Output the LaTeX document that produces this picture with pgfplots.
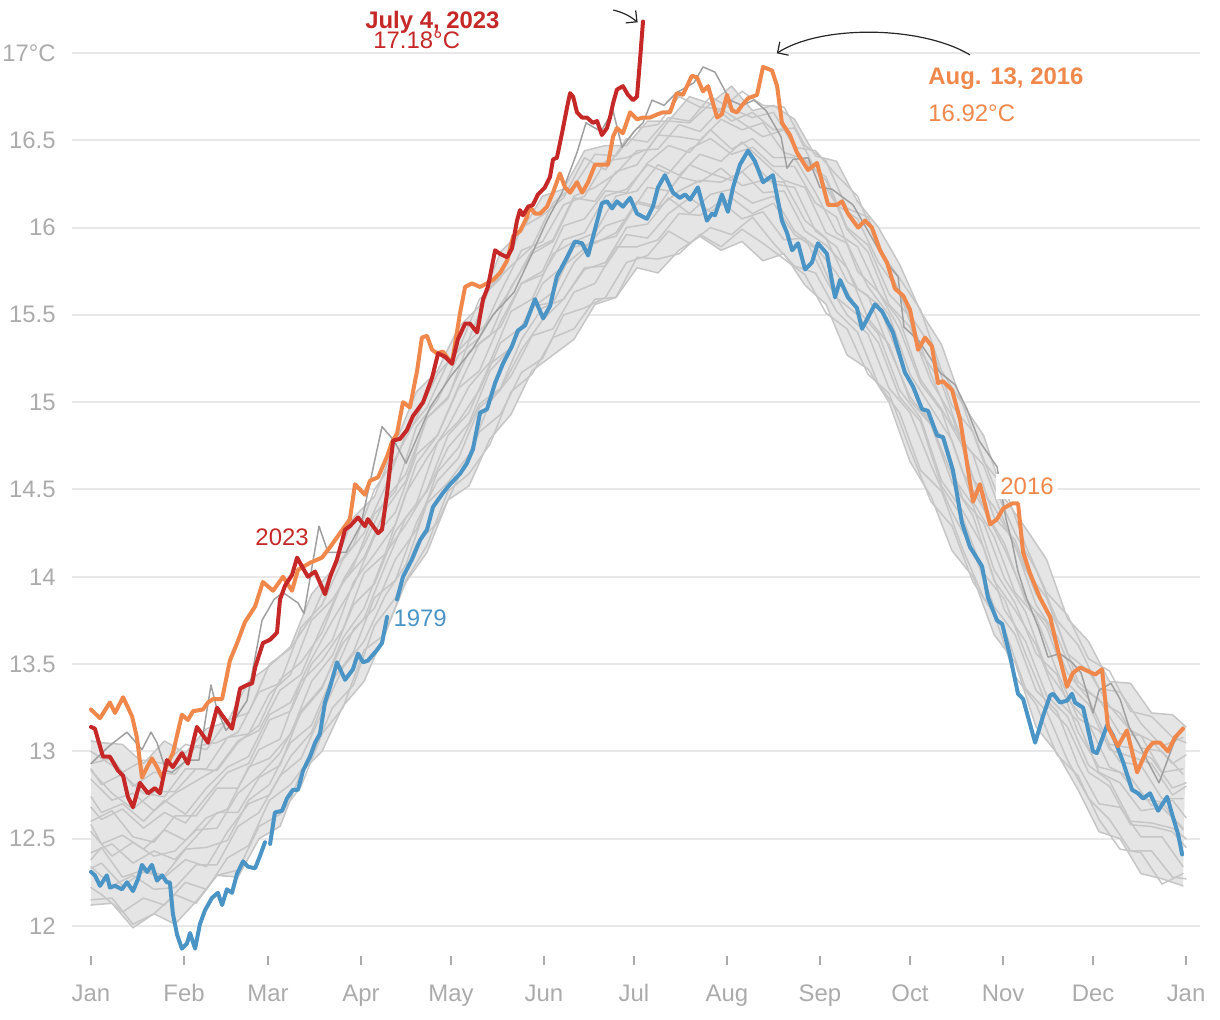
\documentclass[border=0pt]{standalone}
\usepackage{fontspec}
\setmainfont{Liberation Sans}
\usepackage{pgfplots}
\pgfplotsset{compat=1.18}
\usepgfplotslibrary{fillbetween}
\usetikzlibrary{arrows.meta}
\definecolor{gridc}{HTML}{E8E8E8}
\definecolor{tickc}{HTML}{ABABAB}
\definecolor{band}{HTML}{C6C6C6}
\definecolor{bandfill}{HTML}{E5E5E5}
\definecolor{darkg}{HTML}{A0A0A0}
\definecolor{c23}{HTML}{C62828}
\definecolor{c16}{HTML}{F0874B}
\definecolor{c79}{HTML}{4A94C6}
\begin{document}
\begin{tikzpicture}[font=\fontsize{12}{14}\selectfont]
\begin{axis}[
  set layers,
  scale only axis, width=564bp, height=468.8bp,
  xmin=-6.3, xmax=369.7, ymin=11.83, ymax=17.2,
  clip=false,
  axis line style={draw=none},
  tick pos=left,
  xtick={0,31,59,90,120,151,181,212,243,273,304,334,365},
  xticklabels={Jan,Feb,Mar,Apr,May,Jun,Jul,Aug,Sep,Oct,Nov,Dec,Jan},
  ytick={12,12.5,13,13.5,14,14.5,15,15.5,16,16.5,17},
  yticklabels={12,12.5,13,13.5,14,14.5,15,15.5,16,16.5,17°C},
  ymajorgrids=true,
  grid style={draw=gridc, line width=1bp},
  tick align=outside,
  major tick length=4.5bp,
  xtick style={draw=tickc, line width=0.8bp},
  ytick style={draw=none},
  tick label style={text=tickc, font=\fontsize{12}{14}\selectfont, inner sep=0pt},
  xticklabel style={anchor=north, yshift=-9.8bp},
  yticklabel style={anchor=east, xshift=-3.5bp},
  every axis plot/.append style={mark=none, line join=round, line cap=round},
  gl/.style={band, line width=0.75bp},
]
\path (axis cs:-30.33,11.4616) rectangle (axis cs:376.33,17.3035);
% grey band: individual years
\addplot[gl, name path=lo] coordinates {(0,12.12)(7,12.13)(14,11.99)(21,12.07)(28,12.01)(35,12.14)(42,12.29)(49,12.28)(56,12.50)(63,12.57)(70,12.88)(77,13.00)(84,13.26)(91,13.40)(98,13.68)(105,13.97)(112,14.14)(119,14.44)(126,14.52)(133,14.79)(140,14.93)(147,15.18)(154,15.27)(161,15.36)(168,15.56)(175,15.60)(182,15.77)(189,15.74)(196,15.87)(203,15.95)(210,15.87)(217,15.92)(224,15.81)(231,15.85)(238,15.67)(245,15.56)(252,15.27)(259,15.19)(266,15.00)(273,14.66)(280,14.46)(287,14.15)(294,14.00)(301,13.67)(308,13.51)(315,13.14)(322,12.99)(329,12.78)(336,12.54)(343,12.50)(350,12.30)(357,12.27)(364,12.23)};
\addplot[gl, name path=hi] coordinates {(0,13.06)(3.5,13.05)(10.5,13.04)(17.5,12.93)(24.5,13.06)(31.5,12.99)(38.5,13.13)(45.5,13.17)(52.5,13.40)(59.5,13.49)(66.5,13.60)(73.5,13.90)(80.5,14.04)(87.5,14.34)(94.5,14.46)(101.5,14.77)(108.5,15.06)(115.5,15.18)(122.5,15.43)(129.5,15.55)(136.5,15.86)(143.5,15.98)(150.5,16.18)(157.5,16.22)(164.5,16.44)(171.5,16.47)(178.5,16.47)(185.5,16.61)(192.5,16.61)(199.5,16.75)(206.5,16.71)(213.5,16.81)(220.5,16.67)(227.5,16.70)(234.5,16.62)(241.5,16.41)(248.5,16.38)(255.5,16.15)(262.5,16.00)(269.5,15.79)(276.5,15.52)(283.5,15.33)(290.5,14.99)(297.5,14.81)(304.5,14.45)(311.5,14.28)(318.5,14.10)(325.5,13.76)(332.5,13.63)(339.5,13.40)(346.5,13.39)(353.5,13.22)(360.5,13.21)(365,13.14)};
\addplot[bandfill, draw=none] fill between[of=lo and hi];
\addplot[gl] coordinates {(0,12.15)(7,12.16)(14,12.01)(21,12.07)(28,12.18)(35,12.13)(42,12.29)(49,12.32)(56,12.57)(63,12.64)(70,12.80)(77,13.10)(84,13.25)(91,13.58)(98,13.67)(105,13.98)(112,14.18)(119,14.49)(126,14.59)(133,14.76)(140,15.06)(147,15.16)(154,15.37)(161,15.42)(168,15.59)(175,15.60)(182,15.83)(189,15.82)(196,15.85)(203,15.96)(210,15.89)(217,15.99)(224,15.91)(231,15.82)(238,15.73)(245,15.51)(252,15.42)(259,15.16)(266,15.05)(273,14.73)(280,14.43)(287,14.29)(294,13.97)(301,13.79)(308,13.43)(315,13.27)(322,12.98)(329,12.86)(336,12.61)(343,12.44)(350,12.42)(357,12.24)(364,12.30)};
\addplot[gl] coordinates {(0,12.22)(3.5,12.18)(10.5,12.08)(17.5,12.16)(24.5,12.12)(31.5,12.25)(38.5,12.21)(45.5,12.39)(52.5,12.46)(59.5,12.72)(66.5,12.81)(73.5,12.97)(80.5,13.25)(87.5,13.38)(94.5,13.72)(101.5,13.88)(108.5,14.19)(115.5,14.31)(122.5,14.57)(129.5,14.83)(136.5,14.93)(143.5,15.17)(150.5,15.25)(157.5,15.50)(164.5,15.54)(171.5,15.60)(178.5,15.80)(185.5,15.84)(192.5,15.98)(199.5,15.91)(206.5,16.00)(213.5,15.96)(220.5,16.06)(227.5,15.91)(234.5,15.78)(241.5,15.74)(248.5,15.52)(255.5,15.40)(262.5,15.10)(269.5,14.94)(276.5,14.61)(283.5,14.49)(290.5,14.16)(297.5,13.88)(304.5,13.70)(311.5,13.36)(318.5,13.23)(325.5,12.95)(332.5,12.73)(339.5,12.61)(346.5,12.43)(353.5,12.43)(360.5,12.28)(365,12.27)};
\addplot[gl] coordinates {(0,12.34)(7,12.23)(14,12.29)(21,12.21)(28,12.22)(35,12.35)(42,12.35)(49,12.57)(56,12.65)(63,12.86)(70,12.96)(77,13.22)(84,13.48)(91,13.63)(98,13.89)(105,14.07)(112,14.42)(119,14.54)(126,14.70)(133,15.00)(140,15.15)(147,15.38)(154,15.42)(161,15.63)(168,15.68)(175,15.89)(182,15.89)(189,15.93)(196,16.08)(203,16.07)(210,16.15)(217,16.05)(224,16.09)(231,15.93)(238,15.94)(245,15.70)(252,15.50)(259,15.39)(266,15.08)(273,14.94)(280,14.64)(287,14.37)(294,14.15)(301,13.83)(308,13.67)(315,13.35)(322,13.23)(329,12.92)(336,12.70)(343,12.68)(350,12.51)(357,12.51)(364,12.34)};
\addplot[gl] coordinates {(0,12.33)(3.5,12.36)(10.5,12.23)(17.5,12.31)(24.5,12.28)(31.5,12.38)(38.5,12.34)(45.5,12.54)(52.5,12.70)(59.5,12.75)(66.5,12.97)(73.5,13.11)(80.5,13.41)(87.5,13.57)(94.5,13.88)(101.5,13.98)(108.5,14.31)(115.5,14.55)(122.5,14.68)(129.5,14.97)(136.5,15.07)(143.5,15.30)(150.5,15.47)(157.5,15.59)(164.5,15.77)(171.5,15.78)(178.5,15.96)(185.5,15.94)(192.5,16.08)(199.5,16.17)(206.5,16.09)(213.5,16.17)(220.5,16.08)(227.5,16.14)(234.5,15.96)(241.5,15.88)(248.5,15.60)(255.5,15.50)(262.5,15.34)(269.5,15.03)(276.5,14.89)(283.5,14.52)(290.5,14.34)(297.5,14.02)(304.5,13.87)(311.5,13.56)(318.5,13.27)(325.5,13.14)(332.5,12.88)(339.5,12.80)(346.5,12.58)(353.5,12.57)(360.5,12.54)(365,12.45)};
\addplot[gl] coordinates {(0,12.38)(3.5,12.45)(10.5,12.28)(17.5,12.32)(24.5,12.29)(31.5,12.44)(38.5,12.45)(45.5,12.49)(52.5,12.72)(59.5,12.81)(66.5,13.05)(73.5,13.15)(80.5,13.43)(87.5,13.70)(94.5,13.82)(101.5,14.10)(108.5,14.27)(115.5,14.60)(122.5,14.74)(129.5,14.99)(136.5,15.08)(143.5,15.36)(150.5,15.54)(157.5,15.59)(164.5,15.76)(171.5,15.80)(178.5,16.00)(185.5,16.02)(192.5,16.17)(199.5,16.08)(206.5,16.19)(213.5,16.22)(220.5,16.14)(227.5,16.18)(234.5,15.98)(241.5,15.89)(248.5,15.74)(255.5,15.53)(262.5,15.39)(269.5,15.07)(276.5,14.91)(283.5,14.55)(290.5,14.38)(297.5,14.17)(304.5,13.81)(311.5,13.63)(318.5,13.32)(325.5,13.20)(332.5,12.92)(339.5,12.83)(346.5,12.60)(353.5,12.59)(360.5,12.56)(365,12.50)};
\addplot[gl] coordinates {(0,12.42)(7,12.47)(14,12.36)(21,12.43)(28,12.38)(35,12.51)(42,12.65)(49,12.65)(56,12.85)(63,12.92)(70,13.23)(77,13.37)(84,13.62)(91,13.76)(98,14.06)(105,14.34)(112,14.49)(119,14.74)(126,14.88)(133,15.18)(140,15.31)(147,15.55)(154,15.57)(161,15.80)(168,15.92)(175,15.95)(182,16.14)(189,16.11)(196,16.21)(203,16.27)(210,16.26)(217,16.32)(224,16.20)(231,16.21)(238,15.98)(245,15.90)(252,15.77)(259,15.48)(266,15.33)(273,15.01)(280,14.87)(287,14.54)(294,14.35)(301,13.98)(308,13.81)(315,13.61)(322,13.30)(329,13.17)(336,12.88)(343,12.82)(350,12.66)(357,12.68)(364,12.56)};
\addplot[gl] coordinates {(0,12.54)(7,12.40)(14,12.48)(21,12.40)(28,12.43)(35,12.55)(42,12.56)(49,12.76)(56,12.86)(63,12.99)(70,13.22)(77,13.36)(84,13.65)(91,13.82)(98,14.13)(105,14.30)(112,14.50)(119,14.81)(126,14.94)(133,15.22)(140,15.31)(147,15.54)(154,15.63)(161,15.89)(168,15.91)(175,15.97)(182,16.15)(189,16.12)(196,16.29)(203,16.26)(210,16.34)(217,16.24)(224,16.27)(231,16.26)(238,16.04)(245,15.94)(252,15.69)(259,15.61)(266,15.31)(273,15.03)(280,14.88)(287,14.58)(294,14.41)(301,14.04)(308,13.85)(315,13.56)(322,13.44)(329,13.11)(336,12.91)(343,12.88)(350,12.73)(357,12.71)(364,12.55)};
\addplot[gl] coordinates {(0,12.58)(3.5,12.47)(10.5,12.52)(17.5,12.44)(24.5,12.55)(31.5,12.49)(38.5,12.62)(45.5,12.67)(52.5,12.91)(59.5,12.96)(66.5,13.10)(73.5,13.40)(80.5,13.55)(87.5,13.84)(94.5,13.96)(101.5,14.26)(108.5,14.42)(115.5,14.77)(122.5,14.89)(129.5,15.07)(136.5,15.34)(143.5,15.43)(150.5,15.68)(157.5,15.78)(164.5,15.88)(171.5,16.01)(178.5,16.05)(185.5,16.23)(192.5,16.21)(199.5,16.36)(206.5,16.31)(213.5,16.27)(220.5,16.37)(227.5,16.25)(234.5,16.23)(241.5,15.98)(248.5,15.89)(255.5,15.65)(262.5,15.56)(269.5,15.25)(276.5,14.97)(283.5,14.80)(290.5,14.45)(297.5,14.31)(304.5,13.99)(311.5,13.80)(318.5,13.47)(325.5,13.30)(332.5,13.16)(339.5,12.91)(346.5,12.85)(353.5,12.69)(360.5,12.72)(365,12.62)};
\addplot[gl] coordinates {(0,12.60)(7,12.66)(14,12.51)(21,12.48)(28,12.63)(35,12.63)(42,12.79)(49,12.79)(56,13.01)(63,13.07)(70,13.40)(77,13.52)(84,13.70)(91,14.02)(98,14.13)(105,14.48)(112,14.68)(119,14.86)(126,15.09)(133,15.23)(140,15.52)(147,15.59)(154,15.85)(161,15.92)(168,15.97)(175,16.18)(182,16.21)(189,16.36)(196,16.30)(203,16.42)(210,16.38)(217,16.49)(224,16.38)(231,16.27)(238,16.23)(245,15.97)(252,15.91)(259,15.66)(266,15.50)(273,15.16)(280,14.97)(287,14.78)(294,14.43)(301,14.23)(308,13.91)(315,13.77)(322,13.46)(329,13.19)(336,13.12)(343,12.94)(350,12.92)(357,12.73)(364,12.73)};
\addplot[gl] coordinates {(0,12.68)(3.5,12.61)(10.5,12.67)(17.5,12.56)(24.5,12.65)(31.5,12.59)(38.5,12.74)(45.5,12.88)(52.5,12.93)(59.5,13.18)(66.5,13.23)(73.5,13.50)(80.5,13.64)(87.5,13.97)(94.5,14.13)(101.5,14.30)(108.5,14.65)(115.5,14.81)(122.5,15.08)(129.5,15.18)(136.5,15.46)(143.5,15.68)(150.5,15.73)(157.5,15.93)(164.5,15.97)(171.5,16.18)(178.5,16.22)(185.5,16.36)(192.5,16.31)(199.5,16.45)(206.5,16.51)(213.5,16.42)(220.5,16.46)(227.5,16.35)(234.5,16.35)(241.5,16.14)(248.5,16.06)(255.5,15.75)(262.5,15.63)(269.5,15.42)(276.5,15.11)(283.5,14.95)(290.5,14.60)(297.5,14.39)(304.5,14.16)(311.5,13.88)(318.5,13.71)(325.5,13.39)(332.5,13.27)(339.5,13.01)(346.5,12.97)(353.5,12.93)(360.5,12.75)(365,12.80)};
\addplot[gl] coordinates {(0,12.74)(3.5,12.65)(10.5,12.70)(17.5,12.60)(24.5,12.72)(31.5,12.64)(38.5,12.79)(45.5,12.91)(52.5,12.97)(59.5,13.21)(66.5,13.28)(73.5,13.53)(80.5,13.75)(87.5,13.95)(94.5,14.23)(101.5,14.37)(108.5,14.70)(115.5,14.81)(122.5,15.09)(129.5,15.34)(136.5,15.43)(143.5,15.68)(150.5,15.75)(157.5,16.01)(164.5,16.05)(171.5,16.21)(178.5,16.20)(185.5,16.37)(192.5,16.47)(199.5,16.43)(206.5,16.56)(213.5,16.45)(220.5,16.51)(227.5,16.40)(234.5,16.40)(241.5,16.20)(248.5,15.97)(255.5,15.89)(262.5,15.63)(269.5,15.47)(276.5,15.13)(283.5,14.96)(290.5,14.75)(297.5,14.39)(304.5,14.19)(311.5,13.86)(318.5,13.74)(325.5,13.45)(332.5,13.30)(339.5,13.04)(346.5,13.02)(353.5,12.96)(360.5,12.79)(365,12.82)};
\addplot[gl] coordinates {(0,12.84)(7,12.72)(14,12.76)(21,12.66)(28,12.76)(35,12.83)(42,12.90)(49,13.06)(56,13.12)(63,13.35)(70,13.44)(77,13.72)(84,13.97)(91,14.11)(98,14.38)(105,14.55)(112,14.91)(119,15.03)(126,15.29)(133,15.38)(140,15.66)(147,15.85)(154,15.92)(161,16.17)(168,16.15)(175,16.32)(182,16.36)(189,16.53)(196,16.52)(203,16.50)(210,16.62)(217,16.56)(224,16.60)(231,16.43)(238,16.39)(245,16.27)(252,15.99)(259,15.86)(266,15.56)(273,15.43)(280,15.12)(287,14.92)(294,14.56)(301,14.40)(308,14.18)(315,13.84)(322,13.66)(329,13.37)(336,13.30)(343,13.10)(350,13.09)(357,12.88)(364,12.90)};
\addplot[gl] coordinates {(0,12.89)(7,12.76)(14,12.67)(21,12.77)(28,12.77)(35,12.90)(42,12.89)(49,13.05)(56,13.15)(63,13.41)(70,13.51)(77,13.68)(84,13.98)(91,14.18)(98,14.44)(105,14.59)(112,14.91)(119,15.02)(126,15.35)(133,15.47)(140,15.65)(147,15.87)(154,15.93)(161,16.18)(168,16.23)(175,16.31)(182,16.44)(189,16.45)(196,16.59)(203,16.55)(210,16.68)(217,16.60)(224,16.52)(231,16.56)(238,16.37)(245,16.29)(252,16.00)(259,15.90)(266,15.62)(273,15.49)(280,15.16)(287,14.87)(294,14.70)(301,14.34)(308,14.21)(315,13.90)(322,13.73)(329,13.40)(336,13.29)(343,13.22)(350,13.02)(357,13.00)(364,12.87)};
\addplot[gl] coordinates {(0,12.90)(3.5,12.81)(10.5,12.87)(17.5,12.76)(24.5,12.74)(31.5,12.90)(38.5,12.90)(45.5,13.08)(52.5,13.10)(59.5,13.33)(66.5,13.44)(73.5,13.75)(80.5,13.87)(87.5,14.06)(94.5,14.36)(101.5,14.49)(108.5,14.86)(115.5,15.01)(122.5,15.27)(129.5,15.37)(136.5,15.63)(143.5,15.87)(150.5,15.92)(157.5,16.13)(164.5,16.18)(171.5,16.38)(178.5,16.40)(185.5,16.45)(192.5,16.61)(199.5,16.60)(206.5,16.71)(213.5,16.61)(220.5,16.66)(227.5,16.56)(234.5,16.57)(241.5,16.33)(248.5,16.13)(255.5,16.05)(262.5,15.80)(269.5,15.63)(276.5,15.29)(283.5,15.11)(290.5,14.77)(297.5,14.64)(304.5,14.31)(311.5,14.04)(318.5,13.88)(325.5,13.56)(332.5,13.46)(339.5,13.26)(346.5,13.12)(353.5,13.06)(360.5,12.93)(365,12.98)};
\addplot[gl] coordinates {(0,12.93)(7,12.96)(14,12.80)(21,12.88)(28,12.87)(35,13.03)(42,13.05)(49,13.11)(56,13.34)(63,13.39)(70,13.71)(77,13.84)(84,14.10)(91,14.25)(98,14.51)(105,14.82)(112,14.97)(119,15.23)(126,15.36)(133,15.66)(140,15.78)(147,15.89)(154,16.14)(161,16.24)(168,16.42)(175,16.41)(182,16.57)(189,16.59)(196,16.75)(203,16.69)(210,16.68)(217,16.78)(224,16.70)(231,16.69)(238,16.47)(245,16.38)(252,16.11)(259,16.06)(266,15.76)(273,15.50)(280,15.32)(287,14.98)(294,14.83)(301,14.52)(308,14.25)(315,14.04)(322,13.75)(329,13.61)(336,13.36)(343,13.34)(350,13.16)(357,13.03)(364,13.08)};
\addplot[gl] coordinates {(0,13.00)(3.5,12.96)(10.5,12.88)(17.5,12.95)(24.5,12.93)(31.5,13.04)(38.5,13.01)(45.5,13.18)(52.5,13.22)(59.5,13.50)(66.5,13.59)(73.5,13.77)(80.5,14.04)(87.5,14.18)(94.5,14.50)(101.5,14.68)(108.5,14.91)(115.5,15.16)(122.5,15.30)(129.5,15.59)(136.5,15.71)(143.5,16.00)(150.5,16.07)(157.5,16.17)(164.5,16.40)(171.5,16.33)(178.5,16.51)(185.5,16.49)(192.5,16.63)(199.5,16.61)(206.5,16.75)(213.5,16.68)(220.5,16.63)(227.5,16.66)(234.5,16.46)(241.5,16.44)(248.5,16.30)(255.5,16.18)(262.5,15.88)(269.5,15.71)(276.5,15.53)(283.5,15.18)(290.5,14.99)(297.5,14.66)(304.5,14.51)(311.5,14.18)(318.5,13.91)(325.5,13.78)(332.5,13.53)(339.5,13.46)(346.5,13.23)(353.5,13.20)(360.5,13.08)(365,13.05)};
% darker grey year
\addplot[darkg, line width=0.75bp] coordinates {(0,12.93)(6,13.03)(12,13.11)(14,13.07)(17,13.01)(20,13.11)(22,13.05)(25,12.89)(27,12.88)(32,12.95)(36,12.95)(40,13.38)(42,13.24)(45,13.12)(47,13.16)(52,13.29)(57,13.75)(61,13.87)(64,13.91)(69,13.85)(71,13.79)(76,14.29)(79,14.14)(85,14.14)(90,14.30)(97,14.86)(101,14.78)(105,14.65)(113,14.97)(120,15.15)(127,15.30)(134,15.50)(141,15.63)(147,15.85)(152,16.04)(157,16.20)(162,16.43)(165,16.60)(170,16.55)(174,16.67)(177,16.46)(181,16.55)(184,16.60)(187,16.73)(191,16.70)(195,16.77)(201,16.83)(204,16.92)(208,16.89)(213,16.73)(217,16.70)(221,16.73)(225,16.67)(230,16.52)(232,16.34)(234,16.39)(239,16.40)(243,16.23)(247,16.22)(254,16.13)(260,15.95)(265,15.80)(269,15.72)(271,15.43)(276,15.35)(283,15.17)(288,15.10)(292,14.96)(296,14.78)(302,14.63)(305,14.33)(307,14.20)(309,14.03)(312,13.87)(316,13.70)(319,13.54)(323,13.56)(327,13.51)(330,13.45)(334,13.22)(336,13.35)(340,13.39)(343,13.30)(346,13.14)(349,13.05)(352,12.95)(356,12.82)(361,13.05)(364,13.14)};
% 1979
\addplot[c79, line width=2bp] coordinates {(0,12.31)(1.3,12.29)(3,12.23)(5.3,12.29)(6.3,12.22)(8,12.23)(10.3,12.21)(12,12.25)(14,12.20)(15.7,12.27)(17,12.35)(18.7,12.31)(20.3,12.35)(22,12.26)(23.7,12.29)(25.3,12.25)(26.3,12.25)(27.3,12.07)(28.7,11.95)(30.3,11.87)(32,11.90)(33,11.96)(34.7,11.87)(36.3,12.01)(38,12.09)(40.3,12.16)(42.3,12.19)(43.7,12.12)(45.3,12.21)(47,12.19)(48.7,12.30)(50.7,12.37)(52.3,12.34)(54.7,12.33)(56.3,12.40)(58,12.48)};
\addplot[c79, line width=2bp] coordinates {(59.7,12.47)(61.3,12.65)(63.7,12.66)(65.3,12.73)(67.3,12.78)(69,12.78)(70.7,12.89)(73,12.97)(74.7,13.05)(76.3,13.10)(78,13.28)(79.7,13.37)(82,13.51)(84.7,13.41)(87.3,13.47)(89,13.56)(90.7,13.51)(92.3,13.52)(95.3,13.58)(97,13.62)(98.7,13.77)};
\addplot[c79, line width=2bp] coordinates {(102,13.87)(104,14.00)(107,14.10)(109.7,14.21)(112,14.27)(114,14.40)(117.3,14.48)(119.7,14.53)(123,14.59)(125.3,14.65)(127.3,14.73)(129.7,14.94)(132,14.96)(134.7,15.11)(137.3,15.22)(140.3,15.32)(142.3,15.41)(144.7,15.44)(148,15.59)(150.7,15.48)(153,15.55)(155.3,15.72)(158.7,15.83)(161.3,15.92)(163.7,15.91)(165.7,15.84)(168,15.99)(170.3,16.14)(172,16.15)(173.7,16.11)(175.3,16.15)(177.3,16.12)(179.7,16.17)(182,16.08)(185.3,16.05)(187.3,16.12)(189,16.23)(191.3,16.30)(194,16.20)(196.3,16.17)(198,16.19)(199.7,16.16)(202.3,16.23)(205.3,16.04)(207,16.08)(208,16.07)(210.3,16.19)(212.3,16.09)(214,16.23)(216.3,16.36)(219,16.44)(221.3,16.38)(224,16.26)(227.3,16.30)(230.3,16.04)(232,15.97)(233.7,15.87)(235.7,15.91)(238,15.76)(240.3,15.80)(242.3,15.91)(245.3,15.85)(248,15.60)(249.7,15.70)(252.3,15.60)(255.3,15.54)(257,15.42)(261.3,15.56)(263.7,15.52)(267.3,15.40)(271.3,15.17)(274,15.09)(277,14.96)(279,14.95)(282,14.81)(284,14.80)(287.3,14.61)(290.3,14.31)(293,14.17)(297,14.06)(299,13.88)(302,13.75)(303.7,13.73)(306.3,13.55)(309,13.33)(310.7,13.30)(314.7,13.05)(317.3,13.20)(319.7,13.32)(320.7,13.33)(323,13.28)(325.3,13.29)(327,13.33)(328,13.28)(330.7,13.25)(334,13.00)(335.3,12.99)(338.7,13.15)(340.7,13.09)(344,12.94)(347,12.78)(349,12.76)(350.7,12.73)(353,12.76)(355.7,12.66)(358.7,12.74)(360.7,12.62)(362.3,12.53)(363.7,12.41)};
% 2016
\addplot[c16, line width=2bp] coordinates {(0,13.24)(3,13.19)(6.3,13.28)(8,13.22)(10.7,13.31)(13.7,13.20)(15.3,13.08)(17,12.85)(18.7,12.91)(20.3,12.96)(22,12.91)(23.7,12.85)(25.3,12.92)(27.3,12.99)(30.3,13.21)(32.3,13.18)(34,13.23)(37.3,13.24)(39,13.28)(40.7,13.30)(43.7,13.30)(46.3,13.52)(48.7,13.62)(51.3,13.74)(54.7,13.83)(57.3,13.97)(60.7,13.92)(64,14.00)(67,13.92)(69,14.04)(73,14.08)(77,14.11)(79.7,14.17)(83,14.25)(86.3,14.33)(88,14.53)(91.3,14.47)(93,14.55)(95.7,14.57)(98.7,14.69)(100.3,14.77)(102,14.82)(104,15.00)(106.3,14.97)(108.7,15.18)(110.3,15.37)(112,15.38)(113.7,15.30)(115.3,15.28)(117.3,15.29)(120.3,15.22)(123,15.51)(124.7,15.66)(127,15.68)(129.7,15.66)(132,15.68)(134,15.70)(136.3,15.74)(138.7,15.81)(140.7,15.95)(143,15.98)(145.3,16.06)(146.3,16.12)(148,16.08)(149.7,16.08)(152,16.12)(154,16.20)(156.3,16.31)(158,16.23)(159.7,16.20)(162,16.26)(163.7,16.20)(165.7,16.26)(168,16.36)(172.3,16.36)(174,16.52)(175.3,16.57)(177.3,16.54)(179.7,16.66)(182,16.62)(184,16.63)(186.3,16.63)(189,16.65)(190.7,16.66)(193,16.66)(195.3,16.77)(197.3,16.76)(200.3,16.87)(202,16.86)(204,16.78)(205.7,16.81)(208.7,16.63)(210.3,16.65)(212,16.76)(213.7,16.67)(215.3,16.66)(217,16.70)(219,16.74)(222,16.76)(224,16.92)(227,16.90)(228.7,16.81)(230.3,16.60)(233,16.53)(235.3,16.43)(239,16.33)(242,16.37)(245.7,16.13)(248.7,16.13)(250.3,16.15)(252.3,16.08)(255.7,16.00)(258,16.04)(260.3,16.00)(263,15.87)(265.3,15.80)(268,15.65)(270.7,15.61)(273,15.53)(275.7,15.30)(278,15.37)(280.3,15.32)(282.3,15.11)(284,15.12)(287,15.07)(289.7,14.90)(292,14.65)(294,14.43)(296.3,14.53)(299.7,14.30)(302,14.33)(304,14.39)(307,14.42)(309,14.42)(310.7,14.14)(313,14.02)(316.3,13.88)(319.7,13.77)(322,13.60)(325.3,13.37)(327.3,13.45)(329.7,13.48)(332.3,13.46)(334.7,13.44)(337,13.47)(339,13.14)(342.3,13.03)(345.3,13.12)(348.7,12.88)(352,13.01)(354,13.05)(356.3,13.05)(359,13.00)(361.3,13.08)(364,13.13)};
% 2023
\addplot[c23, line width=2bp] coordinates {(0,13.14)(1.3,13.13)(4,12.97)(6.3,12.97)(9,12.89)(10.7,12.86)(12.3,12.74)(14,12.68)(16.3,12.82)(19,12.76)(21.3,12.79)(23,12.76)(25.3,12.95)(27.3,12.91)(30.3,12.99)(32.3,12.93)(35.3,13.14)(37,13.10)(39,13.05)(42,13.25)(44,13.20)(47,13.13)(49.7,13.36)(52,13.38)(53.7,13.39)(54.7,13.48)(57.3,13.62)(59.7,13.64)(62,13.68)(63,13.87)(64.7,13.95)(67,14.01)(68.7,14.11)(70.3,14.06)(72.3,14.00)(74.7,14.03)(78,13.90)(79.7,14.00)(82,14.10)(84.7,14.27)(86.3,14.29)(89,14.34)(91.3,14.29)(92.3,14.33)(95.7,14.25)(97,14.27)(98.7,14.48)(100.7,14.78)(103,14.79)(105.3,14.84)(107.3,14.92)(110.7,15.00)(113.7,15.14)(115.7,15.28)(118,15.26)(120.3,15.22)(122.3,15.36)(124.7,15.45)(126.3,15.45)(128.7,15.40)(130.7,15.59)(132.3,15.66)(134.7,15.87)(136.3,15.85)(138.7,15.83)(140.3,15.88)(142,16.04)(143,16.10)(144,16.07)(145.7,16.12)(147.3,16.13)(149,16.19)(151.3,16.23)(153,16.29)(154,16.39)(155.3,16.40)(157,16.54)(158.7,16.69)(159.7,16.77)(160.7,16.75)(162,16.66)(163.7,16.63)(165.3,16.63)(167.3,16.60)(168.7,16.61)(170.3,16.53)(172,16.57)(173,16.63)(174,16.71)(175.3,16.79)(177.3,16.81)(179,16.76)(180.7,16.73)(182,16.75)(183,16.96)(184,17.18)};
% annotations
\node[anchor=base west, inner sep=0pt, text=c23, font=\bfseries\fontsize{12}{14}\selectfont] at (axis cs:91.3,17.143) {July 4, 2023};
\node[anchor=base west, inner sep=0pt, text=c23] at (axis cs:94,17.023) {17.18°C};
\node[anchor=base west, inner sep=0pt, text=c16, font=\bfseries\fontsize{12}{14}\selectfont] at (axis cs:279,16.817) {Aug. 13, 2016};
\node[anchor=base west, inner sep=0pt, text=c16] at (axis cs:279,16.607) {16.92°C};
\node[anchor=base west, inner sep=0pt, text=c23] at (axis cs:54.7,14.182) {2023};
\node[anchor=base west, inner sep=0pt, text=c79] at (axis cs:100.7,13.714) {1979};
\node[anchor=base west, inner sep=2pt, fill=white, text=c16, xshift=-2pt] at (axis cs:303,14.469) {2016};
\draw[-{Straight Barb[length=4bp,width=8bp]}, line width=0.6bp, black!85] (axis cs:174.1,17.246) to[bend left=12] (axis cs:182.2,17.176);
\draw[-{Straight Barb[length=4bp,width=8bp]}, line width=0.6bp, black!85] (axis cs:293,16.989) .. controls (axis cs:276.3,17.16) and (axis cs:243,17.16) .. (axis cs:228.6,16.998);
\end{axis}
\end{tikzpicture}
\end{document}
